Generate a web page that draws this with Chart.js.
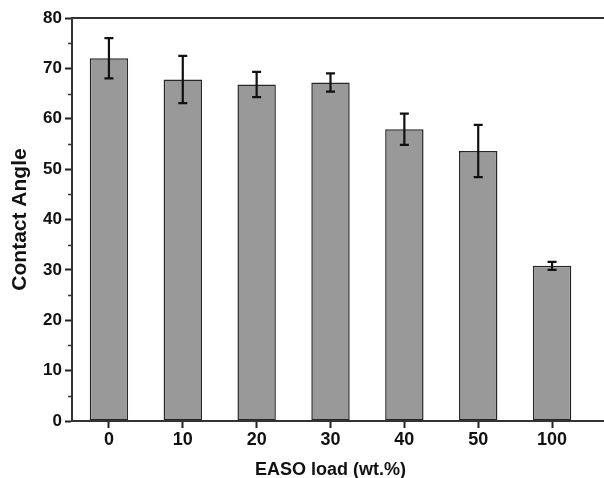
<!DOCTYPE html>
<html>
<head>
<meta charset="utf-8">
<script src="https://cdn.jsdelivr.net/npm/chart.js@4"></script>
<style>
html,body{margin:0;padding:0;background:#fff;}
#wrap{width:604px;height:478px;position:relative;}
</style>
</head>
<body>
<div id="wrap"><canvas id="c" width="604" height="478"></canvas></div>
<script>
const categories = ['0', '10', '20', '30', '40', '50', '100'];
const contactAngle = [72.0, 67.8, 66.8, 67.2, 57.9, 53.6, 30.8];
const errorValues = [4.0, 4.7, 2.5, 1.8, 3.1, 5.2, 0.8];
const yTicks = [0, 10, 20, 30, 40, 50, 60, 70, 80];
const minorTicks = [5, 15, 25, 35, 45, 55, 65, 75];

const FONT = "'Liberation Sans', Arial, sans-serif";

const extras = {
  id: 'extras',
  afterDatasetsDraw(chart) {
    const ctx = chart.ctx;
    const y = chart.scales.y;
    const meta = chart.getDatasetMeta(0);
    ctx.save();
    ctx.strokeStyle = '#111';
    ctx.lineWidth = 2.2;
    meta.data.forEach((bar, i) => {
      const v = contactAngle[i], e = errorValues[i];
      const cx = bar.x;
      const yt = y.getPixelForValue(v + e);
      const yb = y.getPixelForValue(v - e);
      ctx.beginPath();
      ctx.moveTo(cx, yt); ctx.lineTo(cx, yb);
      ctx.moveTo(cx - 4.5, yt); ctx.lineTo(cx + 4.5, yt);
      ctx.moveTo(cx - 4.5, yb); ctx.lineTo(cx + 4.5, yb);
      ctx.stroke();
    });
    ctx.restore();
  },
  afterDraw(chart) {
    const ctx = chart.ctx;
    const a = chart.chartArea;
    const y = chart.scales.y;
    ctx.save();
    ctx.strokeStyle = '#333';
    ctx.lineWidth = 2;
    ctx.beginPath();
    ctx.moveTo(a.left - 1, a.top); ctx.lineTo(chart.width, a.top);
    ctx.moveTo(a.left - 1, a.bottom); ctx.lineTo(chart.width, a.bottom);
    ctx.stroke();
    ctx.lineWidth = 1.5;
    ctx.beginPath();
    minorTicks.forEach(t => {
      const py = Math.round(y.getPixelForValue(t)) + 0.5;
      ctx.moveTo(a.left - 4, py); ctx.lineTo(a.left, py);
    });
    ctx.stroke();
    ctx.restore();
  }
};

new Chart(document.getElementById('c'), {
  type: 'bar',
  data: {
    labels: categories,
    datasets: [{
      data: contactAngle,
      backgroundColor: '#999999',
      borderColor: '#262626',
      borderWidth: 1.5,
      borderSkipped: false,
      categoryPercentage: 1.0,
      barPercentage: 0.52
    }]
  },
  options: {
    responsive: false,
    animation: false,
    devicePixelRatio: 1,
    layout: { padding: { top: 18, right: 15, left: 0, bottom: 0 } },
    plugins: { legend: { display: false }, tooltip: { enabled: false } },
    scales: {
      x: {
        grid: { display: true, offset: false, drawOnChartArea: false, drawTicks: true, tickLength: 7, tickWidth: 2, tickColor: '#222' },
        border: { display: true, color: '#333', width: 2 },
        ticks: { color: '#111', font: { family: FONT, size: 18, weight: 'bold' }, padding: 1, maxRotation: 0 },
        title: { display: true, text: 'EASO load (wt.%)', color: '#111', font: { family: FONT, size: 18, weight: 'bold' }, padding: { top: 9, bottom: -3 } },
        afterFit(s) { s.height = 57; }
      },
      y: {
        min: 0, max: 80,
        afterBuildTicks(s) { s.ticks = yTicks.map(v => ({ value: v })); },
        grid: { display: true, drawOnChartArea: false, drawTicks: true, tickLength: 7, tickWidth: 2, tickColor: '#222' },
        border: { display: true, color: '#333', width: 2 },
        ticks: { color: '#111', font: { family: FONT, size: 17, weight: 'bold' }, padding: 3 },
        title: { display: true, text: 'Contact Angle', color: '#111', font: { family: FONT, size: 21, weight: 'bold' }, padding: { top: 8, bottom: 0 } },
        afterFit(s) { s.width = 72; }
      }
    }
  },
  plugins: [extras]
});
</script>
</body>
</html>
